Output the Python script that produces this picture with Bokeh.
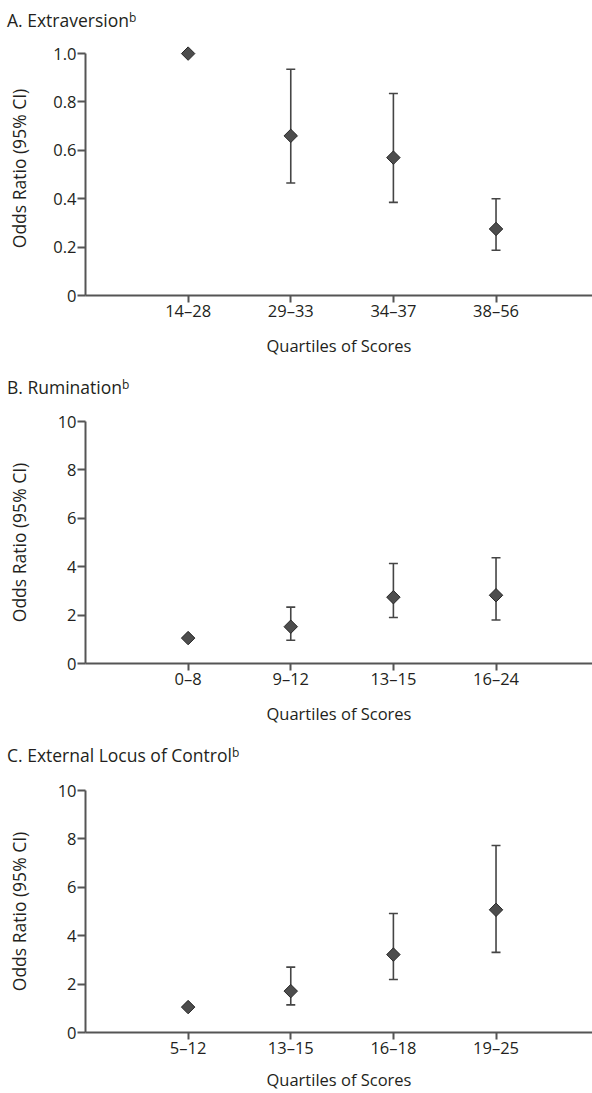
from bokeh.plotting import figure
from bokeh.models import (ColumnDataSource, Range1d, FixedTicker, Whisker, TeeHead,
                          BasicTickFormatter, Div)
from bokeh.layouts import column
from bokeh.embed import file_html
from bokeh.resources import INLINE

# ---------------- data ----------------
titles = ["A. Extraversion", "B. Rumination", "C. External Locus of Control"]
title_sup = "b"
x_label = "Quartiles of Scores"
y_label = "Odds Ratio (95% CI)"

cats_a = ["14–28", "29–33", "34–37", "38–56"]
or_a = [1.0, 0.66, 0.57, 0.275]
lo_a = [None, 0.465, 0.385, 0.187]
hi_a = [None, 0.935, 0.835, 0.40]

cats_b = ["0–8", "9–12", "13–15", "16–24"]
or_b = [1.05, 1.52, 2.74, 2.82]
lo_b = [None, 0.96, 1.90, 1.80]
hi_b = [None, 2.33, 4.13, 4.37]

cats_c = ["5–12", "13–15", "16–18", "19–25"]
or_c = [1.05, 1.71, 3.22, 5.07]
lo_c = [None, 1.14, 2.19, 3.31]
hi_c = [None, 2.70, 4.92, 7.73]

yticks_a = [0, 0.2, 0.4, 0.6, 0.8, 1.0]
yticks_bc = [0, 2, 4, 6, 8, 10]

# ---------------- style ----------------
FONT = "Open Sans"
TXT = "#231f20"
AX = "#555555"
BAR = "#454545"
FILL = "#4d4d4d"
EDGE = "#262626"
W = 592


def title_div(text, height, pad_top):
    html = (f'<div style="margin:0;padding:{pad_top}px 0 0 7px;font-family:\'Open Sans\';'
            f'font-size:17.5px;line-height:20px;color:{TXT};white-space:nowrap;">'
            f'{text}<sup style="font-size:12px;line-height:0;vertical-align:5px;">'
            f'{title_sup}</sup></div>')
    return Div(text=html, width=W, height=height, margin=0)


def make_panel(cats, ors, los, his, yticks, ymax, ybound, height,
               border_top, border_bottom, ylabel_standoff, xlabel_standoff, decimals):
    p = figure(width=W, height=height, output_backend="svg", toolbar_location=None,
               x_range=Range1d(0, 4.94), y_range=Range1d(0, ymax),
               min_border_left=85, min_border_right=0,
               min_border_top=border_top, min_border_bottom=border_bottom)
    p.outline_line_color = None
    p.xgrid.visible = False
    p.ygrid.visible = False
    p.background_fill_color = "white"
    p.border_fill_color = "white"

    xs = list(range(1, len(cats) + 1))

    # error bars (reference category has none)
    wx, wl, wh = [], [], []
    for x, lo, hi in zip(xs, los, his):
        if lo is not None:
            wx.append(x)
            wl.append(lo)
            wh.append(hi)
    wsrc = ColumnDataSource(dict(x=wx, lower=wl, upper=wh))
    w = Whisker(base="x", lower="lower", upper="upper", source=wsrc,
                line_color=BAR, line_width=1.6,
                upper_head=TeeHead(size=9, line_color=BAR, line_width=1.6),
                lower_head=TeeHead(size=9, line_color=BAR, line_width=1.6))
    p.add_layout(w)

    src = ColumnDataSource(dict(x=xs, y=ors))
    p.scatter("x", "y", source=src, marker="square", size=9.5, angle=0.785398,
              fill_color=FILL, line_color=EDGE, line_width=1)

    for ax in (p.xaxis[0], p.yaxis[0]):
        ax.axis_line_color = AX
        ax.axis_line_width = 2
        ax.major_tick_line_color = AX
        ax.major_tick_line_width = 2
        ax.minor_tick_line_color = None
        ax.major_tick_in = 0
        ax.major_label_text_font = FONT
        ax.major_label_text_font_size = "16.5px"
        ax.major_label_text_color = TXT
        ax.axis_label_text_font = FONT
        ax.axis_label_text_font_style = "normal"
        ax.axis_label_text_color = TXT

    xa = p.xaxis[0]
    xa.ticker = FixedTicker(ticks=xs)
    xa.major_label_overrides = {x: c for x, c in zip(xs, cats)}
    xa.major_tick_out = 7
    xa.major_label_standoff = -4
    xa.axis_label = x_label
    xa.axis_label_text_font_size = "16.5px"
    xa.axis_label_standoff = xlabel_standoff

    ya = p.yaxis[0]
    ya.ticker = FixedTicker(ticks=yticks)
    ya.bounds = (0, ybound)
    ya.formatter = BasicTickFormatter(precision=decimals)
    overrides = {0: "0"}
    if decimals:
        overrides[1] = "1.0"
    ya.major_label_overrides = overrides
    ya.major_tick_out = 8
    ya.major_label_standoff = 1
    ya.axis_label = y_label
    ya.axis_label_text_font_size = "17.5px"
    ya.axis_label_standoff = ylabel_standoff
    return p


da = title_div(titles[0], 41, 10)
pa = make_panel(cats_a, or_a, lo_a, hi_a, yticks_a, 1.05, 1.0,
                height=324, border_top=0, border_bottom=70,
                ylabel_standoff=19, xlabel_standoff=9, decimals=1)
db = title_div(titles[1], 40, 12)
pb = make_panel(cats_b, or_b, lo_b, hi_b, yticks_bc, 10, 10,
                height=328, border_top=16, border_bottom=70,
                ylabel_standoff=24, xlabel_standoff=9, decimals=0)
dc = title_div(titles[2], 41, 12)
pc = make_panel(cats_c, or_c, lo_c, hi_c, yticks_bc, 10, 10,
                height=319, border_top=16, border_bottom=61,
                ylabel_standoff=24, xlabel_standoff=6, decimals=0)

layout = column(da, pa, db, pb, dc, pc, spacing=0)
open("out.html", "w").write(file_html(layout, INLINE))
